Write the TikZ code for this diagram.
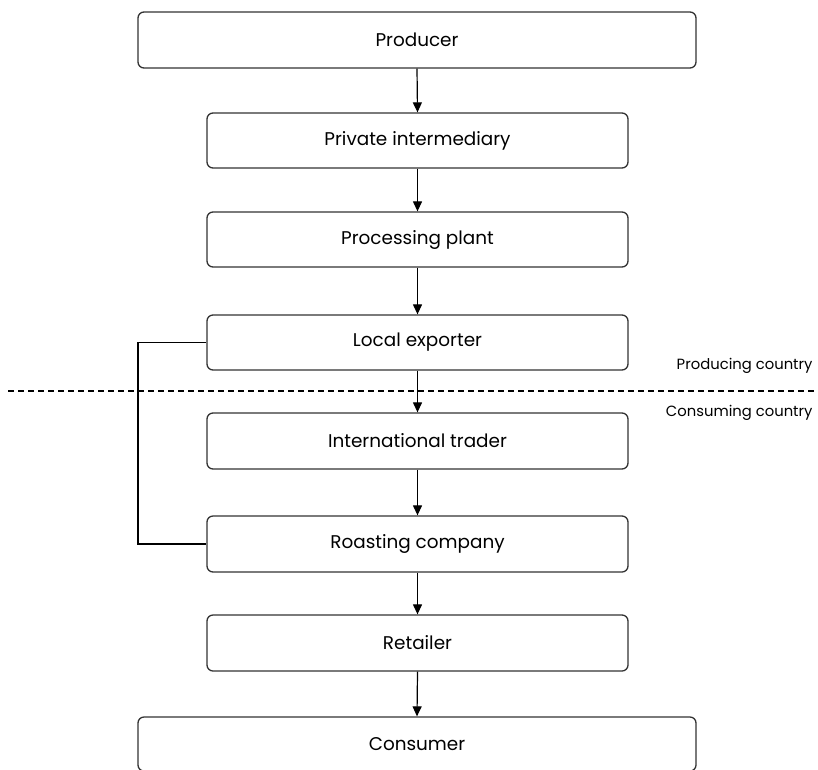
\documentclass[tikz,border=0pt]{standalone}
\usepackage{fontspec}
\setmainfont{Poppins}
\usetikzlibrary{arrows.meta}
\begin{document}
\begin{tikzpicture}[x=1pt,y=-1pt,
  stage/.style={draw=black!80, line width=1.3pt, rounded corners=6pt, font=\fontsize{18.4}{22}\selectfont},
  flow/.style={draw=black, line width=1.2pt, -{Triangle[length=10pt,width=9pt]}},
  side/.style={font=\fontsize{14.8}{17}\selectfont, anchor=east}]
\useasboundingbox (0,0) rectangle (818,769);
\fill[white] (0,0) rectangle (818,769);
% wide boxes
\node[stage, minimum width=558pt, minimum height=56pt] (prod) at (417,40) {Producer};
\node[stage, minimum width=421pt, minimum height=55pt] (pi) at (417.5,140.5) {Private intermediary};
\node[stage, minimum width=421pt, minimum height=55pt] (pp) at (417.5,239.5) {Processing plant};
\node[stage, minimum width=421pt, minimum height=55pt] (le) at (417.5,342.5) {Local exporter};
\node[stage, minimum width=421pt, minimum height=56pt] (it) at (417.5,441) {International trader};
\node[stage, minimum width=421pt, minimum height=56pt] (rc) at (417.5,544) {Roasting company};
\node[stage, minimum width=421pt, minimum height=56pt] (rt) at (417.5,643) {Retailer};
\node[stage, minimum width=558pt, minimum height=54pt] (co) at (417,744) {Consumer};
% arrows
\draw[flow] (prod.south) -- (pi.north);
\draw[flow] (pi.south) -- (pp.north);
\draw[flow] (pp.south) -- (le.north);
\draw[flow] (le.south) -- (it.north);
\draw[flow] (it.south) -- (rc.north);
\draw[flow] (rc.south) -- (rt.north);
\draw[flow] (rt.south) -- (co.north);
% bracket
\coordinate (bl) at (138,342.5);
\coordinate (br) at (138,544);
\draw[line width=1.8pt, line join=miter] (le.west) -- (bl) -- (br) -- (rc.west);
% border line
\coordinate (dl) at (8,391);
\coordinate (dr) at (818,391);
\draw[line width=1.6pt, dash pattern=on 6pt off 4pt] (dl) -- (dr);
\node[side] (pcl) at (816,366) {Producing country};
\node[side] (ccl) at (816,413) {Consuming country};
\end{tikzpicture}
\end{document}
